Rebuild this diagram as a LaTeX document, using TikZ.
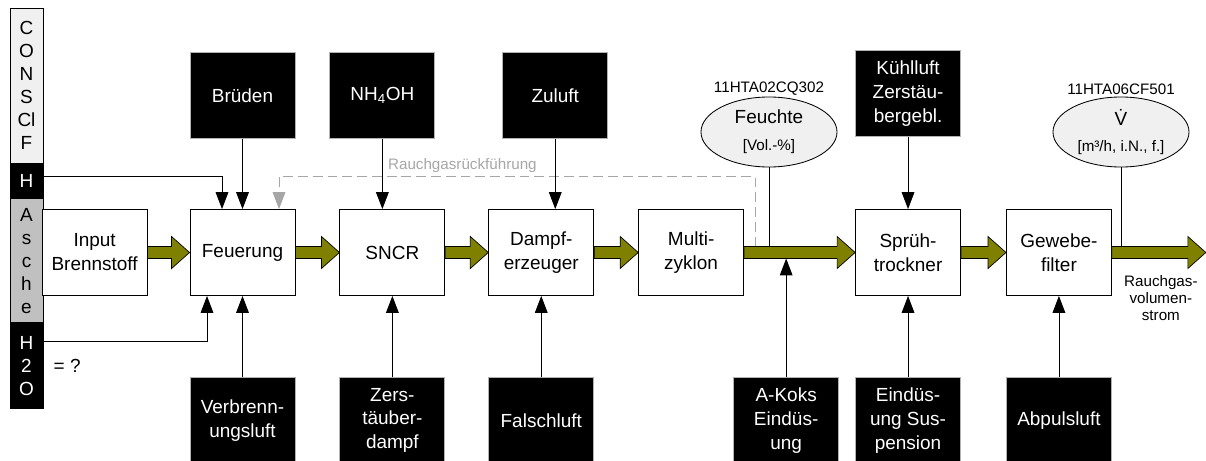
\documentclass[tikz,border=0pt]{standalone}
\usepackage{fontspec}
\setmainfont{Liberation Sans}
\usetikzlibrary{arrows.meta,positioning,calc,shapes.geometric}
\newcommand{\bigfont}{\fontsize{13.5}{17}\selectfont}
\newcommand{\smallfont}{\fontsize{10.8}{12.3}\selectfont}
\definecolor{gasgreen}{HTML}{808000}
\definecolor{lightbar}{HTML}{F0F0F0}
\definecolor{ashbar}{HTML}{C0C0C0}
% big olive flue gas arrow between two points
\newcommand{\gasflow}[2]{%
  \draw[gas] ($#1+(0,-6)$) -- ($#2+(-18,-6)$) -- ($#2+(-18,-16)$) -- #2
    -- ($#2+(-18,16)$) -- ($#2+(-18,6)$) -- ($#1+(0,6)$) -- cycle;}
\tikzset{
  unit/.style={
    draw,
    line width=0.6pt,
    fill=white,
    align=center,
    minimum width=2.625cm,
    minimum height=2.15cm,
    inner sep=0pt,
    font=\bigfont
  },
  feedbox/.style={
    unit,
    fill=black,
    draw=gray!60,
    text=white
  },
  sensor/.style={
    ellipse,
    draw,
    line width=0.6pt,
    fill=lightbar,
    minimum width=3.4cm,
    minimum height=1.75cm,
    inner sep=0pt,
    align=center,
    font=\bigfont
  },
  tag/.style={
    font=\smallfont,
    inner sep=1pt,
    align=center
  },
  barseg/.style={
    draw,
    line width=0.6pt,
    minimum width=0.825cm,
    inner sep=0pt,
    align=center,
    font=\fontsize{13.5}{16.4}\selectfont
  },
  feed/.style={
    -{Triangle[length=12pt,width=9pt]},
    line width=0.6pt
  },
  recirc/.style={
    feed,
    draw=gray!70,
    dash pattern=on 7pt off 3.5pt
  },
  gas/.style={
    draw=black,
    fill=gasgreen,
    line width=0.5pt
  }
}

\begin{document}
\begin{tikzpicture}[x=0.025cm, y=-0.025cm]
  \useasboundingbox (0,0) rectangle (1206,461);
  \clip (0,0) rectangle (1206,461);

  % element column
  \node[barseg, fill=lightbar, minimum height=3.875cm] (consf) at (26.5,85.5) {C\\O\\N\\S\\Cl\\F};
  \node[barseg, fill=black, text=white, minimum height=0.85cm, below=0pt of consf] (hyd) {H};
  \node[barseg, fill=ashbar, minimum height=3.1cm, below=0pt of hyd] (asche) {A\\s\\c\\h\\e};
  \node[barseg, fill=black, text=white, minimum height=2.125cm, below=0pt of asche] (water) {H\\2\\O};
  \node[right=0.25cm of water, inner sep=0pt, font=\bigfont] (unknown) {= ?};

  % process chain
  \node[unit] (feuer) at (242.5,252.5) {Feuerung};
  \node[unit, left=1.05cm of feuer] (input) {Input\\Brennstoff};
  \node[unit, right=1.1cm of feuer] (sncr) {SNCR};
  \node[unit, right=1.075cm of sncr] (dampf) {Dampf-\\erzeuger};
  \node[unit, right=1.1cm of dampf] (multi) {Multi-\\zyklon};
  \node[unit, right=2.775cm of multi] (spruh) {Sprüh-\\trockner};
  \node[unit, right=1.125cm of spruh] (gewebe) {Gewebe-\\filter};

  % feeds from above
  \node[feedbox, above=1.75cm of feuer] (brueden) {Brüden};
  \node[feedbox, above=1.75cm of sncr, xshift=-0.25cm] (nh4oh) {NH\textsubscript{4}OH};
  \node[feedbox, above=1.75cm of dampf, xshift=0.35cm] (zuluft) {Zuluft};
  \node[feedbox, above=1.8cm of spruh] (kuehl) {Kühlluft\\Zerstäu-\\bergebl.};

  % feeds from below
  \node[feedbox, below=2.025cm of feuer] (verbr) {Verbrenn-\\ungsluft};
  \node[feedbox, below=2.025cm of sncr] (zerst) {Zers-\\täuber-\\dampf};
  \node[feedbox, below=2.025cm of dampf] (falsch) {Falschluft};
  \node[feedbox, below=2.025cm of spruh] (einsusp) {Eindüs-\\ung Sus-\\pension};
  \node[feedbox, left=0.4cm of einsusp] (akoks) {A-Koks\\Eindüs-\\ung};
  \node[feedbox, below=2.025cm of gewebe] (abpuls) {Abpulsluft};

  % measurements
  \node[sensor] (feuchte) at (769,132) {Feuchte\\[2pt]{\smallfont [Vol.-\%]}};
  \node[tag, above=0pt of feuchte] (feuchtetag) {11HTA02CQ302};
  \node[sensor] (vflow) at (1121,132) {\.{V}\\[2pt]{\smallfont [m³/h, i.N., f.]}};
  \node[tag, above=0pt of vflow] (vflowtag) {11HTA06CF501};

  \coordinate (hlev) at ($(hyd.east)+(0,-4)$);
  \coordinate (ret) at ($(multi.east)+(11,-6)$);
  \coordinate (koksin) at ($(multi.east)+(0,6)$);
  \coordinate (stack) at ($(gewebe.east)+(94,0)$);
  \node[tag, anchor=north] (rgvol) at ($(gewebe.east)+(49,21)$) {Rauchgas-\\volumen-\\strom};

  \draw[feed] (hlev) -| ($(feuer.north)+(-20.5,0)$);
  \draw[feed] ($(water.north east)+(0,18)$) -| ($(feuer.south)+(-35.5,0)$);
  \draw[recirc] (ret) -- (ret |- hlev) -| ($(feuer.north)+(36.5,0)$);
  \node[tag, text=gray!70, anchor=south] (rgr) at ($(sncr.north |- hlev)+(70,-3)$) {Rauchgasrückführung};

  \draw[feed] (brueden) -- (feuer);
  \draw[feed] (nh4oh) -- (nh4oh |- sncr.north);
  \draw[feed] (zuluft) -- (zuluft |- dampf.north);
  \draw[feed] (kuehl) -- (spruh);
  \draw[feed] (verbr) -- (feuer);
  \draw[feed] (zerst) -- (sncr);
  \draw[feed] (falsch) -- (dampf);
  \draw[feed] (akoks) -- (akoks |- koksin);
  \draw[feed] (einsusp) -- (spruh);
  \draw[feed] (abpuls) -- (gewebe);
  \draw[line width=0.6pt] (feuchte) -- (feuchte |- ret);
  \draw[line width=0.6pt] (vflow) -- (vflow |- ret);

  \gasflow{(input.east)}{(feuer.west)}
  \gasflow{(feuer.east)}{(sncr.west)}
  \gasflow{(sncr.east)}{(dampf.west)}
  \gasflow{(dampf.east)}{(multi.west)}
  \gasflow{(multi.east)}{(spruh.west)}
  \gasflow{(spruh.east)}{(gewebe.west)}
  \gasflow{(gewebe.east)}{(stack)}
\end{tikzpicture}
\end{document}
